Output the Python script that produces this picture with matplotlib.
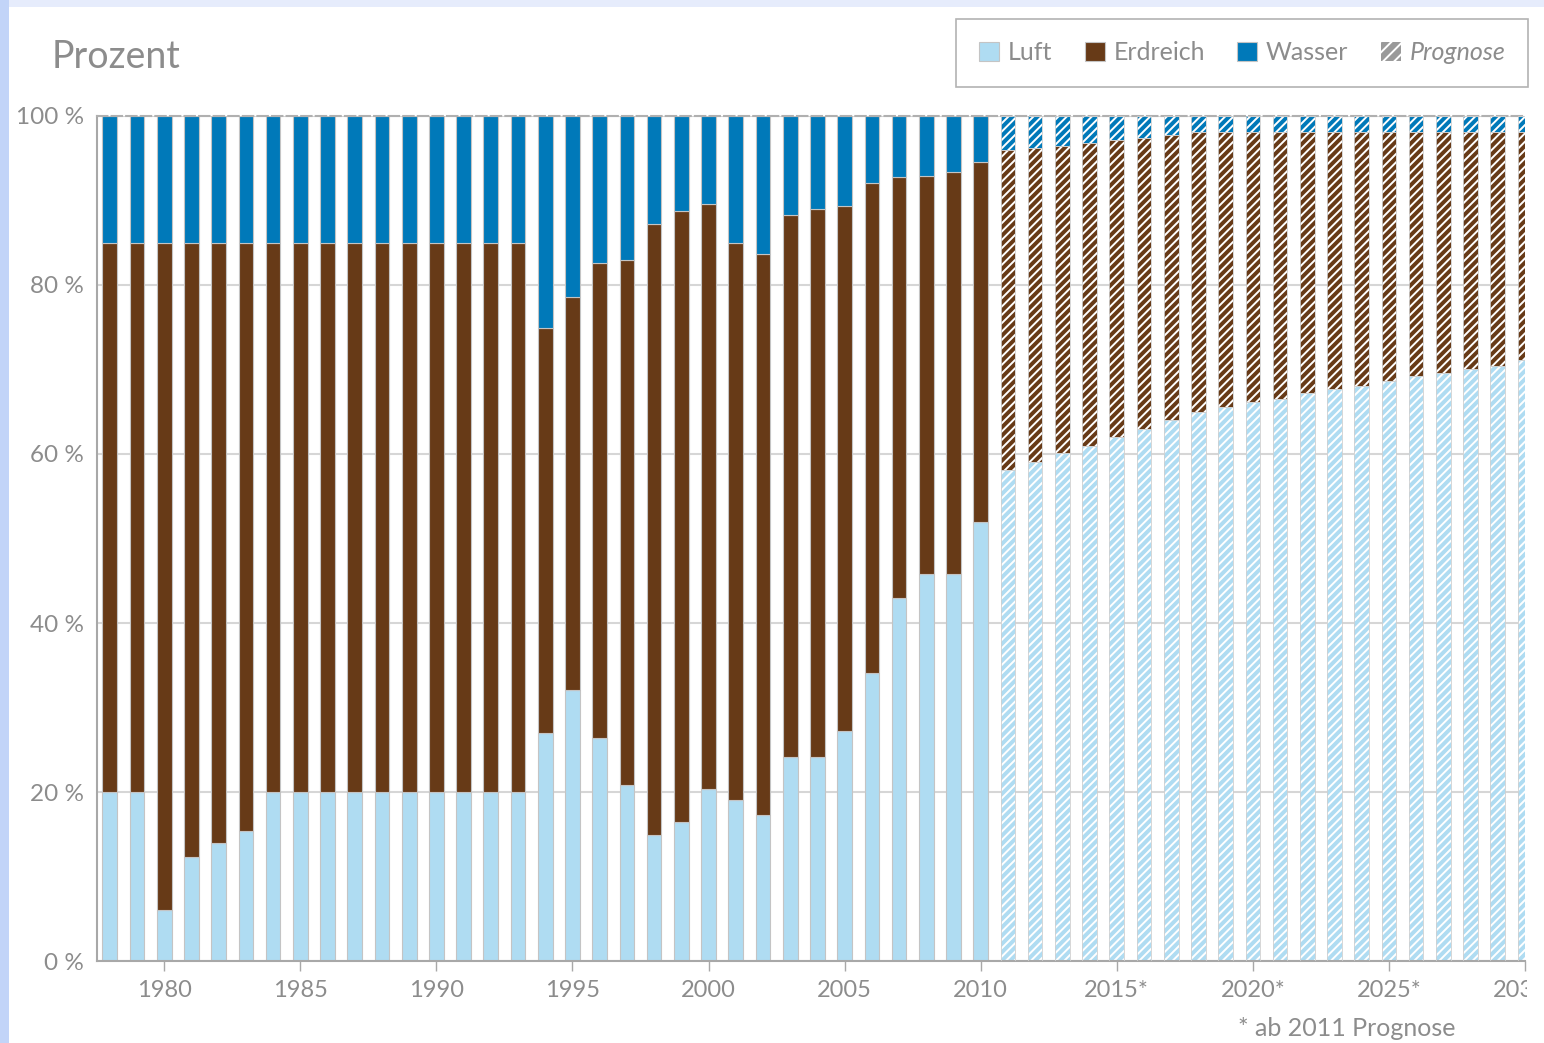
import numpy as np
import matplotlib
matplotlib.use("Agg")
import matplotlib.pyplot as plt
from matplotlib.patches import Patch, Rectangle
from matplotlib.transforms import Bbox, TransformedBbox

# data: shares in percent, 1978 - 2030 (from 2011 forecast)
years = list(range(1978, 2031))
luft = [20, 20, 6.0, 12.3, 14.0, 15.4, 20, 20, 20, 20, 20, 20, 20, 20, 20, 20,
        27.0, 32.1, 26.4, 20.8, 14.9, 16.4, 20.4, 19.1, 17.3, 24.1, 24.1, 27.2,
        34.1, 43.0, 45.8, 45.8, 52.0,
        58.1, 59.0, 60.1, 61.0, 62.0, 63.0, 64.0, 65.0, 65.6, 66.1, 66.5, 67.2,
        67.7, 68.1, 68.6, 69.2, 69.6, 70.0, 70.4, 71.1]
erdreich = [65, 65, 79.0, 72.7, 71.0, 69.6, 65, 65, 65, 65, 65, 65, 65, 65, 65, 65,
            47.9, 46.5, 56.2, 62.2, 72.3, 72.3, 69.2, 65.9, 66.4, 64.2, 64.9, 62.2,
            58.0, 49.8, 47.1, 47.6, 42.5,
            37.9, 37.2, 36.3, 35.8, 35.1, 34.4, 33.8, 33.1, 32.5, 32.0, 31.6, 30.9,
            30.4, 30.0, 29.5, 28.9, 28.5, 28.1, 27.7, 27.0]
wasser = [15, 15, 15, 15, 15, 15, 15, 15, 15, 15, 15, 15, 15, 15, 15, 15,
          25.1, 21.4, 17.4, 17.0, 12.8, 11.3, 10.4, 15.0, 16.3, 11.7, 11.0, 10.6,
          7.9, 7.2, 7.1, 6.6, 5.5,
          4.0, 3.8, 3.6, 3.2, 2.9, 2.6, 2.2, 1.9, 1.9, 1.9, 1.9, 1.9,
          1.9, 1.9, 1.9, 1.9, 1.9, 1.9, 1.9, 1.9]
first_forecast = 2011
tick_years = [1980, 1985, 1990, 1995, 2000, 2005, 2010, 2015, 2020, 2025, 2030]
tick_labels = ["1980", "1985", "1990", "1995", "2000", "2005", "2010",
               "2015*", "2020*", "2025*", "2030*"]

c_luft = "#afdcf2"
c_erd = "#673a17"
c_was = "#0079b9"
grey_txt = "#8c8c8c"
edge = "#c4c4c4"

plt.rcParams['font.family'] = ['Lato', 'DejaVu Sans']
plt.rcParams['hatch.linewidth'] = 1.4

fig = plt.figure(figsize=(15.44, 10.43), dpi=100, facecolor="#e6ecfc")
# page background: blue strip on the left, white panel
fig.patches.append(Rectangle((0, 0), 0.006, 1, transform=fig.transFigure,
                             facecolor="#c2d4f8", edgecolor="none", zorder=-6))
fig.patches.append(Rectangle((0.006, 0), 0.994, 0.993, transform=fig.transFigure,
                             facecolor="white", edgecolor="none", zorder=-5))

ax = fig.add_axes([0.0625, 0.0786, 0.9252, 0.8102])
ax.set_facecolor("none")

x = np.array(years)
L = np.array(luft)
E = np.array(erdreich)
W = np.array(wasser)
hist = x < first_forecast
prog = ~hist
width = 0.54

for vals, bottom, col in [(L, 0 * L, c_luft), (E, L, c_erd), (W, L + E, c_was)]:
    ax.bar(x[hist], vals[hist], bottom=bottom[hist], width=width, color=col,
           edgecolor=edge, linewidth=0.8, zorder=2)
    ax.bar(x[prog], vals[prog], bottom=bottom[prog], width=width, color=col,
           edgecolor="white", linewidth=0, hatch="////", zorder=2)
    ax.bar(x[prog], vals[prog], bottom=bottom[prog], width=width, color="none",
           edgecolor="#d0d0d0", linewidth=0.6, zorder=3)

ax.set_xlim(1977.51, 2030)
ax.set_ylim(0, 100)
ax.set_yticks([0, 20, 40, 60, 80, 100])
ax.set_yticklabels(["0 %", "20 %", "40 %", "60 %", "80 %", "100 %"])
ax.set_xticks(tick_years)
ax.set_xticklabels(tick_labels)
ax.tick_params(axis="y", length=0, pad=9, labelsize=17.5, labelcolor=grey_txt)
ax.tick_params(axis="x", length=7, width=1, color="#a8a8a8", pad=7,
               labelsize=17, labelcolor=grey_txt)

ax.set_axisbelow(True)
ax.yaxis.grid(True, color="#d6d6d6", linewidth=1.5)
for s in ["left", "bottom"]:
    ax.spines[s].set_color("#a8a8a8")
    ax.spines[s].set_linewidth(1.5)
ax.spines["right"].set_visible(False)
ax.spines["top"].set_color("#b0b0b0")
ax.spines["top"].set_linewidth(1.5)
ax.spines["top"].set_linestyle((0, (5, 2)))

# last tick label is cut off at the plot edge, as in the original
clip = TransformedBbox(Bbox([[0, 0], [1527 / 1544, 1]]), fig.transFigure)
for lbl in ax.get_xticklabels():
    lbl.set_clip_on(True)
    lbl.set_clip_box(clip)

fig.text(52 / 1544, 1 - 57 / 1043, "Prozent", fontsize=27, color=grey_txt,
         ha="left", va="center")
fig.text(1455 / 1544, 1 - 1029 / 1043, "* ab 2011 Prognose", fontsize=18,
         color=grey_txt, ha="right", va="center")

handles = [Patch(facecolor=c_luft, edgecolor=edge, linewidth=0.8),
           Patch(facecolor=c_erd, edgecolor=edge, linewidth=0.8),
           Patch(facecolor=c_was, edgecolor=edge, linewidth=0.8),
           Patch(facecolor="#9a9a9a", edgecolor="white", linewidth=0, hatch="///")]
leg = fig.legend(handles, ["Luft", "Erdreich", "Wasser", "Prognose"], ncol=4,
                 loc="upper right", bbox_to_anchor=(1528 / 1544, 1 - 19 / 1043),
                 bbox_transform=fig.transFigure, frameon=True, fancybox=False,
                 edgecolor="#a0a0a0", fontsize=18, handlelength=0.8,
                 handleheight=0.8, handletextpad=0.35, columnspacing=1.3,
                 borderpad=0.9, borderaxespad=0)
leg.get_frame().set_linewidth(1.2)
for t in leg.get_texts():
    t.set_color(grey_txt)
leg.get_texts()[3].set_style("italic")

fig.savefig("out.png", dpi=100, facecolor=fig.get_facecolor())
